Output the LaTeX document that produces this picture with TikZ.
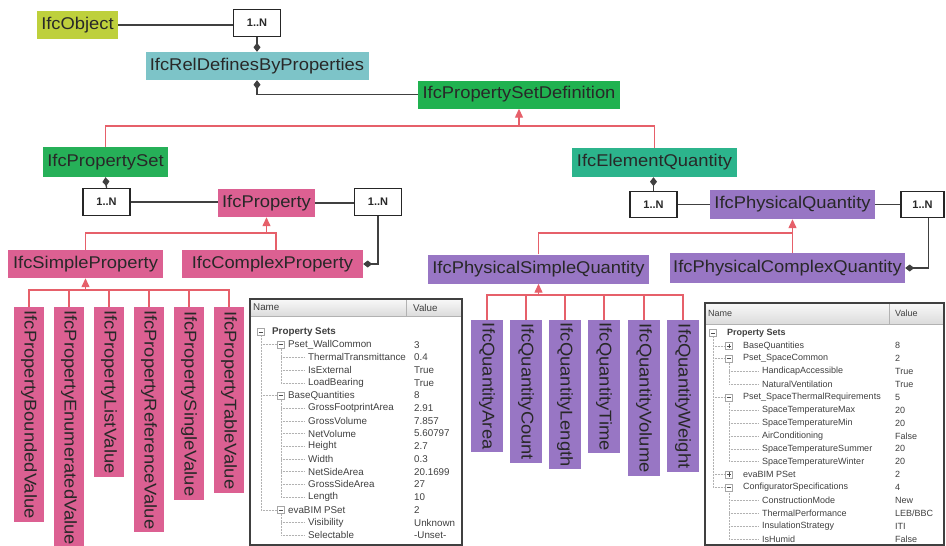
\documentclass[tikz,border=0pt]{standalone}
\usepackage{fontspec}
\setmainfont{Liberation Sans}
\newfontfamily\clsfont[FakeStretch=1.08]{Liberation Sans}
\usetikzlibrary{arrows.meta,calc}
\definecolor{objc}{RGB}{190,208,60}
\definecolor{relc}{RGB}{125,196,200}
\definecolor{psdc}{RGB}{32,178,80}
\definecolor{psc}{RGB}{38,176,88}
\definecolor{eqc}{RGB}{44,180,140}
\definecolor{pinkc}{RGB}{220,96,146}
\definecolor{purc}{RGB}{152,118,196}
\definecolor{redl}{RGB}{230,96,106}
\definecolor{txt}{RGB}{40,40,40}
\begin{document}
\begin{tikzpicture}[x=1pt,y=-1pt,
  cls/.style={rectangle, inner sep=0pt, minimum height=28pt, text=txt,
    font=\clsfont\fontsize{17}{20}\selectfont},
  vb/.style={cls, rotate=-90, anchor=west, minimum height=30pt},
  vq/.style={cls, rotate=-90, anchor=west, minimum height=32pt},
  mult/.style={draw=black!85, line width=1.3pt, fill=white, inner sep=0pt,
    minimum width=47pt, minimum height=27pt, text=txt,
    font=\bfseries\fontsize{11}{12}\selectfont},
  conn/.style={draw=black!75, line width=1.3pt},
  agg/.style={conn, -{Diamond[length=9pt,width=7pt]}},
  redln/.style={draw=redl, line width=1.3pt},
  inh/.style={redln, -{Triangle[length=9pt,width=8pt]}},
  trow/.style={inner sep=0pt, anchor=west, text=black!75, font=\fontsize{9}{10}\selectfont},
  trowa/.style={trow, font=\fontsize{9.8}{10}\selectfont},
  tline/.style={draw=gray!60, line width=0.5pt, densely dotted},
  expb/.style={draw=gray!70, fill=white, minimum size=7pt, inner sep=0pt},
  tborder/.style={draw=gray!50!black, line width=1.2pt}
]
\useasboundingbox (0,0) rectangle (946,546);
\fill[white] (0,0) rectangle (946,546);

% ---------- top part ----------
\node[cls, fill=objc, minimum width=81pt] (obj) at (77.5,25) {IfcObject};
\node[mult] (m1) at (257,23) {1..N};
\node[cls, fill=relc, minimum width=223pt] (rel) at (257,66) {IfcRelDefinesByProperties};
\node[cls, fill=psdc, minimum width=202pt] (psd) at (519,94.5) {IfcPropertySetDefinition};
\node[cls, fill=psc, minimum width=125pt, minimum height=30pt] (ps) at (105.5,162) {IfcPropertySet};
\node[cls, fill=eqc, minimum width=165pt, minimum height=29pt] (eq) at (654.5,162.5) {IfcElementQuantity};

\draw[conn] (obj.east) -- (obj.east -| m1.west);
\draw[agg] (m1.south) -- (rel.north);
\draw[agg] (psd.west) -| (rel.south);
\coordinate (b1) at (0,126);
\draw[redln] (ps.north) |- (eq.north |- b1) -- (eq.north);
\draw[inh] (psd.south |- b1) -- (psd.south);

% ---------- property branch ----------
\node[mult] (m2) at (106.5,202) {1..N};
\node[cls, fill=pinkc, minimum width=97pt] (prop) at (266.5,203) {IfcProperty};
\node[mult] (m3) at (378,202) {1..N};
\node[cls, fill=pinkc, minimum width=155pt] (sp) at (85.5,264) {IfcSimpleProperty};
\node[cls, fill=pinkc, minimum width=181pt] (cp) at (272.5,264) {IfcComplexProperty};

\draw[agg] (m2.north) -- (ps.south);
\draw[conn] (m2.east) -- (m2.east -| prop.west);
\draw[conn] (prop.east) -- (prop.east -| m3.west);
\draw[agg] (m3.south) |- (cp.east);
\coordinate (b2) at (276,233);
\draw[redln] (sp.north) |- (b2) -- (b2 |- cp.north);
\draw[inh] (prop.south |- b2) -- (prop.south);

\node[vb, fill=pinkc, minimum width=215pt] (pb1) at (29,307) {IfcPropertyBoundedValue};
\node[vb, fill=pinkc, minimum width=241pt] (pb2) at (69,307) {IfcPropertyEnumeratedValue};
\node[vb, fill=pinkc, minimum width=170pt] (pb3) at (109,307) {IfcPropertyListValue};
\node[vb, fill=pinkc, minimum width=225pt] (pb4) at (149,307) {IfcPropertyReferenceValue};
\node[vb, fill=pinkc, minimum width=193pt] (pb5) at (189,307) {IfcPropertySingleValue};
\node[vb, fill=pinkc, minimum width=186pt] (pb6) at (229,307) {IfcPropertyTableValue};
\coordinate (b3) at (0,290);
\draw[redln] (pb1.west) |- (pb6.west |- b3) -- (pb6.west);
\foreach \k in {2,...,5} \draw[redln] (pb\k.west) -- (pb\k.west |- b3);
\draw[inh] (sp.south |- b3) -- (sp.south);

% ---------- quantity branch ----------
\node[mult, minimum height=26pt] (m4) at (653.5,204.5) {1..N};
\node[cls, fill=purc, minimum width=165pt, minimum height=29pt] (pq) at (792.5,204.5) {IfcPhysicalQuantity};
\node[mult, minimum width=43pt, minimum height=26pt] (m5) at (922.5,204.5) {1..N};
\node[cls, fill=purc, minimum width=221pt, minimum height=29pt] (psq) at (538.5,269) {IfcPhysicalSimpleQuantity};
\node[cls, fill=purc, minimum width=235pt, minimum height=30pt] (pcq) at (787.5,268) {IfcPhysicalComplexQuantity};

\draw[agg] (m4.north) -- (m4.north |- eq.south);
\draw[conn] (m4.east) -- (pq.west);
\draw[conn] (pq.east) -- (m5.west);
\draw[agg] ([xshift=6pt]m5.south) |- (pcq.east);
\coordinate (b4) at (792.5,233);
\draw[redln] (psq.north) |- (b4) -- (b4 |- pcq.north);
\draw[inh] (b4) -- (pq.south);

\node[vq, fill=purc, minimum width=132pt] (q1) at (487,320) {IfcQuantityArea};
\node[vq, fill=purc, minimum width=143pt] (q2) at (526,320) {IfcQuantityCount};
\node[vq, fill=purc, minimum width=149pt] (q3) at (565,320) {IfcQuantityLength};
\node[vq, fill=purc, minimum width=133pt] (q4) at (604,320) {IfcQuantityTime};
\node[vq, fill=purc, minimum width=156pt] (q5) at (644,320) {IfcQuantityVolume};
\node[vq, fill=purc, minimum width=152pt] (q6) at (683,320) {IfcQuantityWeight};
\coordinate (b5) at (0,295);
\draw[redln] (q1.west) |- (q6.west |- b5) -- (q6.west);
\foreach \k in {2,...,5} \draw[redln] (q\k.west) -- (q\k.west |- b5);
\draw[inh] (psq.south |- b5) -- (psq.south);

% ---------- table 1 ----------
\fill[white] (250,299) rectangle (462,545);
\shade[top color=gray!5, bottom color=gray!28] (250,299) rectangle (462,316);
\draw[gray!60, line width=0.6pt] (250,316) -- (462,316);
\draw[gray!60, line width=0.6pt] (406,300) -- (406,316);
\draw[tborder] (250,299) rectangle (462,545);
\node[trowa] (t1h1) at (253,307.5) {Name};
\node[trowa] (t1h2) at (413,307.5) {Value};
\foreach \i/\lv/\nm/\vl in {0/0/Property Sets/{},1/1/Pset\_WallCommon/3,2/2/ThermalTransmittance/0.4,
  3/2/IsExternal/True,4/2/LoadBearing/True,5/1/BaseQuantities/8,6/2/GrossFootprintArea/2.91,
  7/2/GrossVolume/7.857,8/2/NetVolume/5.60797,9/2/Height/2.7,10/2/Width/0.3,
  11/2/NetSideArea/20.1699,12/2/GrossSideArea/27,13/2/Length/10,14/1/evaBIM PSet/2,
  15/2/Visibility/Unknown,16/2/Selectable/-Unset-}{
  \pgfmathsetmacro\yy{332+12.7*\i}
  \pgfmathsetmacro\xx{(\lv==0)*272+(\lv==1)*288+(\lv==2)*308}
  \node[trowa] (t1n\i) at (\xx,\yy) {\ifnum\lv=0 \bfseries\fi\nm};
  \node[trowa] (t1v\i) at (414,\yy) {\vl};
}
\draw[tline] (261,336) -- (261,{332+12.7*14});
\foreach \r in {1,5,14} \draw[tline] (261,{332+12.7*\r}) -- (277,{332+12.7*\r});
\draw[tline] (281,{332+12.7*1+4}) -- (281,{332+12.7*4});
\draw[tline] (281,{332+12.7*5+4}) -- (281,{332+12.7*13});
\draw[tline] (281,{332+12.7*14+4}) -- (281,{332+12.7*16});
\foreach \r in {2,3,4,6,7,8,9,10,11,12,13,15,16} \draw[tline] (281,{332+12.7*\r}) -- (305,{332+12.7*\r});
\foreach \r/\xe in {0/261,1/281,5/281,14/281}{
  \node[expb] (t1e\r) at (\xe,{332+12.7*\r}) {};
  \draw[black!70, line width=0.6pt] ([xshift=1.5pt]t1e\r.west) -- ([xshift=-1.5pt]t1e\r.east);
}

% ---------- table 2 ----------
\fill[white] (705,303) rectangle (944,545);
\shade[top color=gray!5, bottom color=gray!28] (705,303) rectangle (944,324);
\draw[gray!60, line width=0.6pt] (705,324) -- (944,324);
\draw[gray!60, line width=0.6pt] (889,304) -- (889,324);
\draw[tborder] (705,303) rectangle (944,545);
\node[trow] (t2h1) at (708,313.5) {Name};
\node[trow] (t2h2) at (895,313.5) {Value};
\foreach \i/\lv/\nm/\vl in {0/0/Property Sets/{},1/1/BaseQuantities/8,2/1/Pset\_SpaceCommon/2,
  3/2/HandicapAccessible/True,4/2/NaturalVentilation/True,5/1/Pset\_SpaceThermalRequirements/5,
  6/2/SpaceTemperatureMax/20,7/2/SpaceTemperatureMin/20,8/2/AirConditioning/False,
  9/2/SpaceTemperatureSummer/20,10/2/SpaceTemperatureWinter/20,11/1/evaBIM PSet/2,
  12/1/ConfiguratorSpecifications/4,13/2/ConstructionMode/New,14/2/ThermalPerformance/LEB\slash BBC,
  15/2/InsulationStrategy/ITI,16/2/IsHumid/False}{
  \pgfmathsetmacro\yy{333+12.87*\i}
  \pgfmathsetmacro\xx{(\lv==0)*727+(\lv==1)*743+(\lv==2)*762}
  \node[trow] (t2n\i) at (\xx,\yy) {\ifnum\lv=0 \bfseries\fi\nm};
  \node[trow] (t2v\i) at (895,\yy) {\vl};
}
\draw[tline] (713,337) -- (713,{333+12.87*12});
\foreach \r in {1,2,5,11,12} \draw[tline] (713,{333+12.87*\r}) -- (725,{333+12.87*\r});
\draw[tline] (729,{333+12.87*2+4}) -- (729,{333+12.87*4});
\draw[tline] (729,{333+12.87*5+4}) -- (729,{333+12.87*10});
\draw[tline] (729,{333+12.87*12+4}) -- (729,{333+12.87*16});
\foreach \r in {3,4,6,7,8,9,10,13,14,15,16} \draw[tline] (729,{333+12.87*\r}) -- (758,{333+12.87*\r});
\foreach \r/\xe/\pl in {0/713/0,1/729/1,2/729/0,5/729/0,11/729/1,12/729/0}{
  \node[expb] (t2e\r) at (\xe,{333+12.87*\r}) {};
  \draw[black!70, line width=0.6pt] ([xshift=1.5pt]t2e\r.west) -- ([xshift=-1.5pt]t2e\r.east);
  \ifnum\pl=1 \draw[black!70, line width=0.6pt] ([yshift=1.5pt]t2e\r.south) -- ([yshift=-1.5pt]t2e\r.north);\fi
}
\end{tikzpicture}
\end{document}
